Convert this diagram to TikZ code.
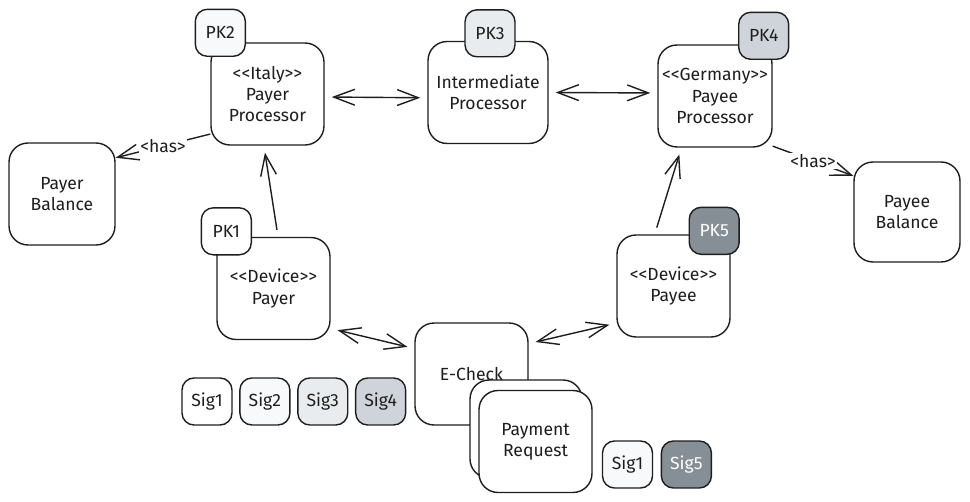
\documentclass[tikz,border=0pt]{standalone}
\usepackage{fontspec}
\newfontfamily\handfont{Fira Sans}
\usepackage{tikz}
\usetikzlibrary{arrows.meta,positioning}
\definecolor{ink}{HTML}{1E1E1E}
\definecolor{grayA}{HTML}{F8F9FA}
\definecolor{grayB}{HTML}{E9ECEF}
\definecolor{grayC}{HTML}{CED4DA}
\definecolor{grayD}{HTML}{868E96}

\begin{document}
\begin{tikzpicture}[x=0.02cm,y=-0.02cm,>={Straight Barb[length=12pt,width=9pt]},
  shorten >=4pt,shorten <=4pt,thick,color=ink,node distance=0.13cm,
  box node/.style={rectangle,draw=ink,fill=white,thick,rounded corners=0.38cm,align=center,
    inner sep=0pt,minimum width=2.26cm,minimum height=2.04cm,font=\handfont\fontsize{10}{12}\selectfont},
  key node/.style={rectangle,draw=ink,thick,rounded corners=0.24cm,inner sep=0pt,
    minimum width=1cm,minimum height=0.94cm,font=\handfont\fontsize{10}{12}\selectfont},
  has node/.style={fill=white,inner sep=1pt,font=\handfont\fontsize{10}{12}\selectfont}]
  \useasboundingbox (0,0) rectangle (970,502);

  % processors and balances
  \node[box node] (ppay) at (267.5,94) {<<Italy>>\\Payer\\Processor};
  \node[box node,minimum width=2.4cm] (inter) at (488,92.5) {Intermediate\\Processor};
  \node[box node,minimum width=2.28cm] (ppye) at (715,96) {<<Germany>>\\Payee\\Processor};
  \node[box node,minimum width=2.12cm] (pbal) at (62,194) {Payer\\Balance};
  \node[box node,minimum width=2.12cm,minimum height=2cm] (ebal) at (907,212) {Payee\\Balance};

  % devices and the check
  \node[box node] (dpay) at (273.5,288.5) {<<Device>>\\Payer};
  \node[box node] (dpye) at (673.5,286) {<<Device>>\\Payee};
  \node[box node] (echk) at (471.5,374) {E-Check};
  \node[box node,minimum width=2.24cm,minimum height=1.96cm] (preq0) at (526,429) {};
  \node[box node] (preq) at (535.5,441.5) {Payment\\Request};

  % keys
  \node[key node,fill=grayA] (pk2) at ([shift={(10,-9.5)}]ppay.north west) {PK2};
  \node[key node,fill=grayB] (pk3) at ([shift={(2,-7.5)}]inter.north) {PK3};
  \node[key node,fill=grayC] (pk4) at ([shift={(-9,-8.5)}]ppye.north east) {PK4};
  \node[key node,fill=white] (pk1) at ([shift={(10,-5.5)}]dpay.north west) {PK1};
  \node[key node,fill=grayD,text=white] (pk5) at ([shift={(-16.5,-3.5)}]dpye.north east) {PK5};

  % signatures
  \node[key node,fill=white] (sig1) at (207,401.5) {Sig1};
  \node[key node,fill=grayA,right=of sig1] (sig2) {Sig2};
  \node[key node,fill=grayB,right=of sig2] (sig3) {Sig3};
  \node[key node,fill=grayC,right=of sig3] (sig4) {Sig4};
  \node[key node,fill=grayA] (sigp) at (627.5,464.5) {Sig1};
  \node[key node,fill=grayD,text=white,right=0.15cm of sigp] (sig5) {Sig5};

  \path
    (ppay.357) edge[<->] (inter.185)
    (inter.east) edge[<->] (ppye.177)
    (dpay.85) edge[->] (ppay.266)
    (dpye.110) edge[->] (ppye.237)
    (dpay.325) edge[<->] (echk.156)
    (echk.28) edge[<->] (dpye.213)
    (ppay.215) edge[->,shorten >=0pt,shorten <=0pt] node[has node] {<has>} (pbal.34)
    (ppye.319) edge[->,shorten >=0pt,shorten <=0pt] node[has node] {<has>} (ebal.146);
\end{tikzpicture}
\end{document}
